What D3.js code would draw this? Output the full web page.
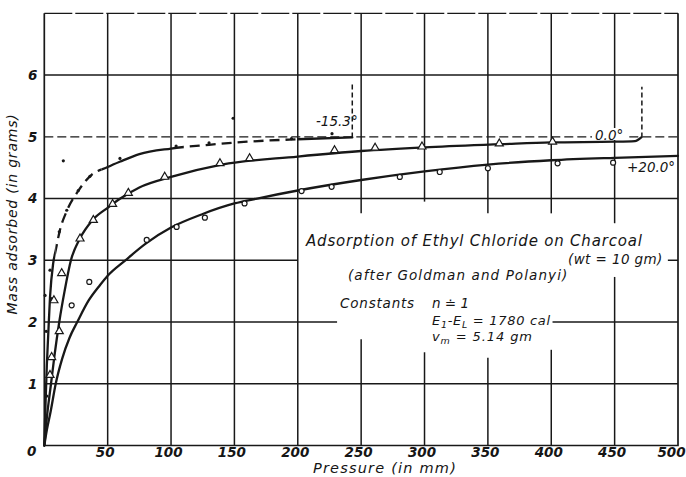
<!DOCTYPE html>
<html>
<head>
<meta charset="utf-8">
<script src="https://cdn.jsdelivr.net/npm/d3@7/dist/d3.min.js"></script>
<style>
  html, body { margin: 0; padding: 0; background: #fff; }
  svg { display: block; }
  text { font-family: "DejaVu Sans", sans-serif; font-style: italic; fill: #151515; }
</style>
</head>
<body>
<svg id="chart" width="686" height="477"></svg>
<script>
// Axis ticks
const pressureTicks = [50, 100, 150, 200, 250, 300, 350, 400, 450, 500];
const massTicks = [0, 1, 2, 3, 4, 5, 6];

// Drawn isotherms: [pressure (mm), mass adsorbed (g)]
const isoMinus153 = [
  [0, 0], [1, 0.7], [2, 1.3], [3, 1.75], [4.5, 2.4], [7, 2.95], [9, 3.16], [12, 3.46],
  [18, 3.81], [27, 4.13], [36, 4.36], [50, 4.51], [60, 4.6], [75, 4.72], [100, 4.81],
  [130, 4.87], [160, 4.92], [200, 4.96], [243, 4.99]
];
const isoZero = [
  [0, 0], [2, 0.45], [5.3, 1.0], [8, 1.45], [11.8, 2.0], [16, 2.5], [21, 3.0], [28, 3.35],
  [38, 3.65], [50, 3.85], [60, 4.0], [75, 4.18], [100, 4.35], [140, 4.55], [200, 4.68],
  [250, 4.77], [300, 4.83], [360, 4.88], [400, 4.91], [450, 4.92], [466, 4.93], [471, 4.99]
];
const isoPlus20 = [
  [0, 0], [2, 0.25], [5, 0.55], [9, 1.0], [14, 1.4], [20, 1.75], [26, 2.0], [35, 2.35],
  [44, 2.6], [50, 2.75], [64, 3.0], [80, 3.27], [100, 3.53], [125, 3.75], [150, 3.92],
  [168, 4.0], [200, 4.13], [250, 4.3], [300, 4.44], [350, 4.55], [400, 4.62], [450, 4.66],
  [500, 4.69]
];

// Measured points: [pressure (mm), mass adsorbed (g)]
const ptsMinus153 = [
  [0.6, 2.43], [1.5, 1.85], [2, 0.8], [4.5, 2.84], [6, 2.38], [11.8, 3.46], [15, 4.61],
  [17.7, 3.81], [26.8, 4.13], [36, 4.36], [59.7, 4.65], [104, 4.85], [130, 4.9],
  [149, 5.3], [195, 4.97], [227, 5.05]
];
const ptsZero = [
  [4.5, 1.14], [5.8, 1.43], [7.6, 2.35], [11.8, 1.85], [13.7, 2.79], [28.2, 3.35],
  [38.7, 3.65], [53.9, 3.91], [66.3, 4.09], [95, 4.35], [138.6, 4.57], [162, 4.65],
  [229, 4.78], [261, 4.82], [298, 4.84], [359, 4.89], [401, 4.92]
];
const ptsPlus20 = [
  [21.6, 2.27], [35.5, 2.65], [80.8, 3.33], [104.4, 3.54], [126.7, 3.69], [158, 3.92],
  [203, 4.12], [226.7, 4.19], [280.5, 4.35], [312, 4.43], [350, 4.49], [405, 4.57],
  [448.8, 4.58]
];

// Saturation markers at the ends of the two lower-temperature isotherms: [pressure, from, to]
const saturationLines = [[243, 4.99, 5.89], [471.5, 4.99, 5.81]];

const ink = "#181818";
const svg = d3.select("#chart");
const x = d3.scaleLinear().domain([0, 500]).range([44.3, 678]);
const y = d3.scaleLinear().domain([0, 7]).range([445.5, 13.3]);

// ---- grid (segments leave room for the annotation block) ----
const grid = svg.append("g").attr("stroke", ink).attr("fill", "none").attr("stroke-width", 1.5);
const vSegs = [
  [50, 0, 7], [100, 0, 7], [150, 0, 7], [200, 0, 7],
  [250, 0, 1.72], [250, 3.76, 7],
  [300, 0, 1.51], [300, 3.95, 7],
  [350, 0, 1.42], [350, 3.76, 7],
  [400, 0, 1.55], [400, 3.76, 7],
  [450, 0, 2.73], [450, 3.6, 7]
];
const hSegs = [
  [1, 0, 500], [2, 0, 231], [2, 401, 500], [3, 0, 200], [3, 492, 500],
  [4, 0, 500], [6, 0, 500]
];
grid.selectAll("line.v").data(vSegs).join("line")
  .attr("x1", d => x(d[0])).attr("x2", d => x(d[0]))
  .attr("y1", d => y(d[1])).attr("y2", d => y(d[2]));
grid.selectAll("line.h").data(hSegs).join("line")
  .attr("x1", d => x(d[1])).attr("x2", d => x(d[2]))
  .attr("y1", d => y(d[0])).attr("y2", d => y(d[0]));
// top edge and the 5 g rule are drawn broken
grid.append("line")
  .attr("x1", x(0)).attr("x2", x(500)).attr("y1", y(7)).attr("y2", y(7))
  .attr("stroke-dasharray", "28,3").attr("stroke-width", 1.3);
grid.append("line")
  .attr("x1", x(0)).attr("x2", x(500)).attr("y1", y(5)).attr("y2", y(5))
  .attr("stroke-dasharray", "9,4").attr("stroke-width", 1.2);

// frame: left, bottom, right
svg.append("path").attr("stroke", ink).attr("stroke-width", 1.7).attr("fill", "none")
  .attr("d", `M${x(0)},${y(7)}V${y(0)}H${x(500)}V${y(7)}`);

// ---- axes (labels only, lines come from the grid) ----
const xAxis = svg.append("g").attr("transform", `translate(-3,${y(0)})`)
  .call(d3.axisBottom(x).tickValues(pressureTicks).tickSize(0).tickPadding(1.5).tickFormat(d3.format("d")));
const yAxis = svg.append("g").attr("transform", `translate(${x(0)},0)`)
  .call(d3.axisLeft(y).tickValues(massTicks).tickSize(0).tickPadding(7).tickFormat(d3.format("d")));
[xAxis, yAxis].forEach(a => {
  a.select(".domain").remove();
  a.selectAll("text")
    .attr("font-family", "DejaVu Sans, sans-serif")
    .attr("font-style", "italic").attr("font-weight", "bold")
    .attr("font-size", 13.5).attr("fill", ink);
});
xAxis.selectAll(".tick").filter(d => d === 500).select("text").attr("x", -4);
yAxis.selectAll(".tick").filter(d => d === 0).select("text").attr("dy", "0.75em").attr("x", -8);

svg.append("text")
  .attr("x", 385).attr("y", 473).attr("text-anchor", "middle")
  .attr("font-size", 14.5).attr("letter-spacing", 1.2)
  .text("Pressure (in mm)");
svg.append("text")
  .attr("transform", "translate(17,214) rotate(-90)")
  .attr("text-anchor", "middle").attr("font-size", 14).attr("letter-spacing", 0.8)
  .text("Mass adsorbed (in grams)");

// ---- isotherms ----
const line = d3.line().x(d => x(d[0])).y(d => y(d[1])).curve(d3.curveMonotoneX);
const curves = svg.append("g").attr("fill", "none").attr("stroke", ink)
  .attr("stroke-width", 2.3).attr("stroke-linejoin", "round").attr("stroke-linecap", "round");

curves.append("path").attr("d", line(isoPlus20));
curves.append("path").attr("d", line(isoZero));

// -15.3° isotherm: partly drawn dashed
const defs = svg.append("defs");
function clipRanges(id, ranges) {
  const cp = defs.append("clipPath").attr("id", id);
  ranges.forEach(r => cp.append("rect")
    .attr("x", x(r[0])).attr("width", x(r[1]) - x(r[0]))
    .attr("y", 0).attr("height", 477));
}
clipRanges("solidPart", [[-5, 9], [45, 110], [200, 260]]);
clipRanges("dashPart", [[9, 45], [110, 200]]);
curves.append("path").attr("d", line(isoMinus153)).attr("clip-path", "url(#solidPart)");
curves.append("path").attr("d", line(isoMinus153)).attr("clip-path", "url(#dashPart)")
  .attr("stroke-dasharray", "10,6").attr("stroke-linecap", "butt");

// saturation verticals
svg.append("g").attr("stroke", ink).attr("stroke-width", 1.5).attr("stroke-dasharray", "5,3")
  .selectAll("line").data(saturationLines).join("line")
  .attr("x1", d => x(d[0])).attr("x2", d => x(d[0]))
  .attr("y1", d => y(d[1])).attr("y2", d => y(d[2]));

// ---- measured points ----
const marks = svg.append("g");
marks.selectAll("circle.m15").data(ptsMinus153).join("circle")
  .attr("cx", d => x(d[0])).attr("cy", d => y(d[1])).attr("r", 1.6).attr("fill", ink);
marks.selectAll("path.z").data(ptsZero).join("path")
  .attr("transform", d => `translate(${x(d[0])},${y(d[1])})`)
  .attr("d", d3.symbol(d3.symbolTriangle).size(28))
  .attr("fill", "#fff").attr("stroke", ink).attr("stroke-width", 1.2);
marks.selectAll("circle.p20").data(ptsPlus20).join("circle")
  .attr("cx", d => x(d[0])).attr("cy", d => y(d[1])).attr("r", 2.5)
  .attr("fill", "#fff").attr("stroke", ink).attr("stroke-width", 1.2);

// ---- curve labels ----
const lbl = svg.append("g").attr("font-size", 13.5);
lbl.append("rect").attr("x", 592).attr("y", 128).attr("width", 37).attr("height", 12).attr("fill", "#fff");
lbl.append("text").attr("x", 316).attr("y", 126).text("-15.3°");
lbl.append("text").attr("x", 595).attr("y", 140).text("0.0°");
lbl.append("text").attr("x", 627).attr("y", 172).text("+20.0°");

// ---- annotation block ----
const ann = svg.append("g");
ann.append("text").attr("x", 306).attr("y", 246).attr("font-size", 15).attr("letter-spacing", 0.8)
  .text("Adsorption of Ethyl Chloride on Charcoal");
ann.append("text").attr("x", 568).attr("y", 264).attr("font-size", 13.5).attr("letter-spacing", 0.4)
  .text("(wt = 10 gm)");
ann.append("text").attr("x", 348).attr("y", 280).attr("font-size", 13.5).attr("letter-spacing", 1.1)
  .text("(after Goldman and Polanyi)");
ann.append("text").attr("x", 340).attr("y", 308).attr("font-size", 13.5).attr("letter-spacing", 0.8)
  .text("Constants");
ann.append("text").attr("x", 432).attr("y", 308).attr("font-size", 13.5)
  .text("n ≐ 1");
const e = ann.append("text").attr("x", 432).attr("y", 325).attr("font-size", 13).attr("letter-spacing", 0.7);
e.append("tspan").text("E");
e.append("tspan").attr("font-size", 9.5).attr("dy", 3).text("1");
e.append("tspan").attr("dy", -3).text("-E");
e.append("tspan").attr("font-size", 9.5).attr("dy", 3).text("L");
e.append("tspan").attr("dy", -3).text(" = 1780 cal");
const v = ann.append("text").attr("x", 432).attr("y", 341).attr("font-size", 13).attr("letter-spacing", 0.9);
v.append("tspan").text("v");
v.append("tspan").attr("font-size", 9.5).attr("dy", 3).text("m");
v.append("tspan").attr("dy", -3).text(" = 5.14 gm");
</script>
</body>
</html>
